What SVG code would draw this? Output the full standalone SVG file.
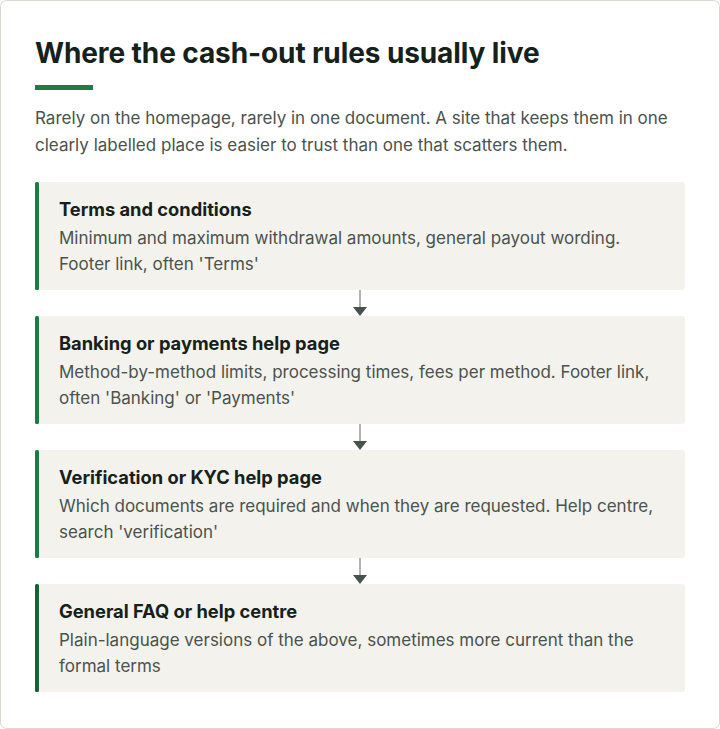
<svg xmlns="http://www.w3.org/2000/svg" width="720" height="729" viewBox="0 0 720 729">
<style>
text{font-family:Inter,"Liberation Sans",sans-serif}
.h{font-size:28px;font-weight:700;fill:#15211a;letter-spacing:-0.1px}
.p{font-size:17px;fill:#4a524d}
.t{font-size:18.3px;font-weight:700;fill:#15211a}
.d{font-size:17px;fill:#4a524d}
.card{fill:#f3f2ed}
.bar{fill:#1e7b45}
.c{stroke:#999a95;stroke-width:1.5}
.ah{fill:#47524c}
</style>
<rect x="0.5" y="0.5" width="719" height="728" rx="6" fill="#fff" stroke="#d9d9d0"/>
<text class="h" x="35" y="63">Where the cash-out rules usually live</text>
<rect x="35" y="85" width="58" height="5" fill="#1e7b45"/>
<text class="p" x="35" y="124">Rarely on the homepage, rarely in one document. A site that keeps them in one</text>
<text class="p" x="35" y="151">clearly labelled place is easier to trust than one that scatters them.</text>
<g id="connectors">
<line class="c" x1="360" y1="290" x2="360" y2="307"/><path class="ah" d="M353,307 H367 L360,316 Z"/>
<line class="c" x1="360" y1="424" x2="360" y2="441"/><path class="ah" d="M353,441 H367 L360,450 Z"/>
<line class="c" x1="360" y1="558" x2="360" y2="575"/><path class="ah" d="M353,575 H367 L360,584 Z"/>
</g>
<g id="n1"><rect class="card" x="35" y="182" width="650" height="108" rx="3"/><rect class="bar" x="35" y="182" width="4" height="108" rx="1.5"/>
<text class="t" x="59" y="216">Terms and conditions</text>
<text class="d" x="59" y="244">Minimum and maximum withdrawal amounts, general payout wording.</text>
<text class="d" x="59" y="270">Footer link, often 'Terms'</text></g>
<g id="n2"><rect class="card" x="35" y="316" width="650" height="108" rx="3"/><rect class="bar" x="35" y="316" width="4" height="108" rx="1.5"/>
<text class="t" x="59" y="350">Banking or payments help page</text>
<text class="d" x="59" y="378">Method-by-method limits, processing times, fees per method. Footer link,</text>
<text class="d" x="59" y="404">often 'Banking' or 'Payments'</text></g>
<g id="n3"><rect class="card" x="35" y="450" width="650" height="108" rx="3"/><rect class="bar" x="35" y="450" width="4" height="108" rx="1.5"/>
<text class="t" x="59" y="484">Verification or KYC help page</text>
<text class="d" x="59" y="512">Which documents are required and when they are requested. Help centre,</text>
<text class="d" x="59" y="538">search 'verification'</text></g>
<g id="n4"><rect class="card" x="35" y="584" width="650" height="108" rx="3"/><rect x="35" y="584" width="4" height="108" rx="1.5" fill="#17603a"/>
<text class="t" x="59" y="618">General FAQ or help centre</text>
<text class="d" x="59" y="646">Plain-language versions of the above, sometimes more current than the</text>
<text class="d" x="59" y="672">formal terms</text></g>
</svg>
